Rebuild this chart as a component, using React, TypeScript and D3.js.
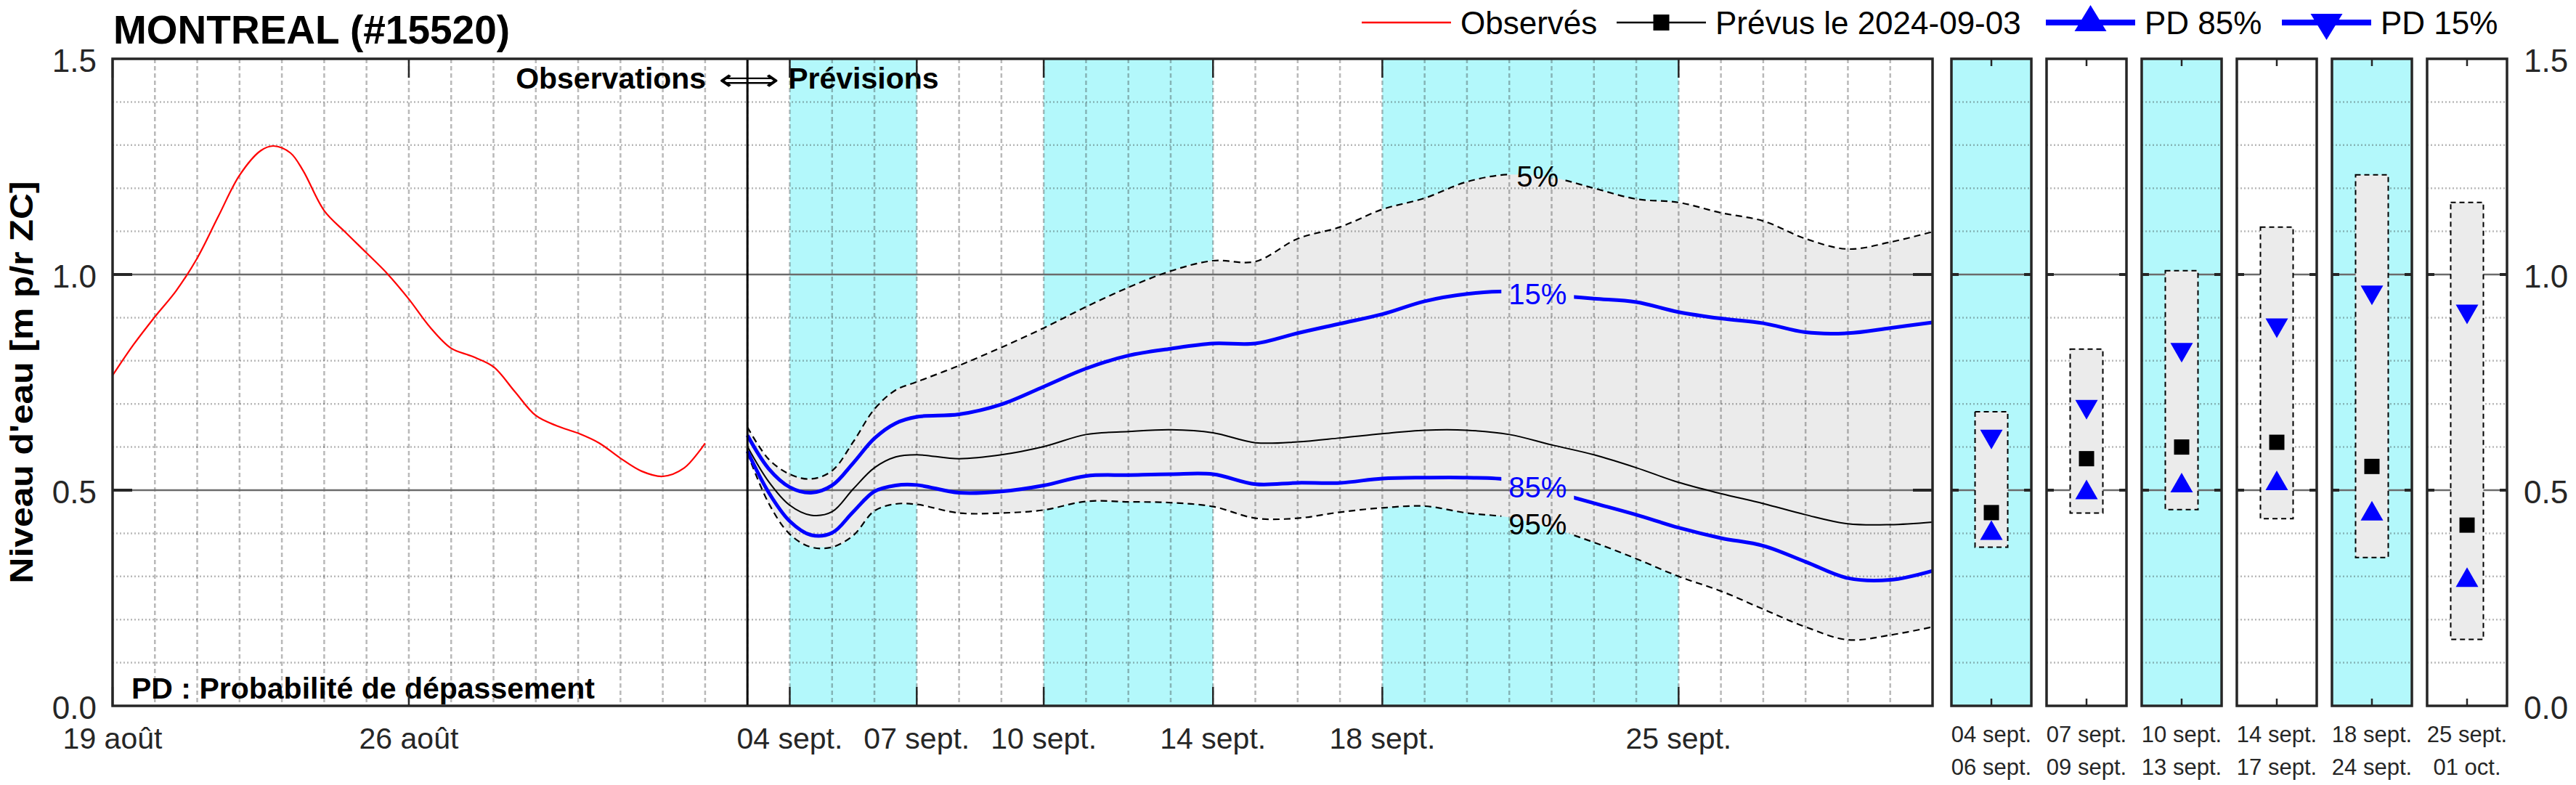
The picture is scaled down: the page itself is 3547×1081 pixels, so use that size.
import * as d3 from 'd3'

const FONT = 'Liberation Sans, Arial, Helvetica, sans-serif'
const CYAN = '#b3f8fb'
const ENVELOPE = '#ebebeb'
const BLUE = '#0000ff'
const AXIS = '#262626'

// observed levels, days since 2024-08-19
const obsDays = [0, 0.5, 1, 1.5, 2, 2.5, 3, 3.5, 3.8, 4.2, 4.5, 5, 5.5, 6, 6.5, 7, 7.5, 8, 8.5, 9, 9.5, 10, 10.5, 11, 11.5, 12, 12.5, 13, 13.5, 14]
const obsLevel = [0.766, 0.838, 0.902, 0.962, 1.038, 1.135, 1.23, 1.287, 1.298, 1.282, 1.241, 1.148, 1.098, 1.05, 1.001, 0.943, 0.878, 0.829, 0.81, 0.786, 0.729, 0.673, 0.649, 0.632, 0.609, 0.574, 0.544, 0.532, 0.551, 0.609]

// forecast issued 2024-09-03, days after issue
const fcDays = [0, 0.5, 1, 1.5, 2, 2.5, 3, 3.5, 4, 5, 6, 7, 8, 9, 10, 11, 12, 13, 14, 15, 16, 17, 18, 19, 20, 21, 22, 23, 24, 25, 26, 27, 28]
const p05 = [0.646, 0.572, 0.537, 0.526, 0.545, 0.612, 0.688, 0.732, 0.751, 0.789, 0.831, 0.876, 0.925, 0.97, 1.008, 1.032, 1.03, 1.083, 1.11, 1.151, 1.177, 1.215, 1.232, 1.225, 1.2, 1.175, 1.167, 1.143, 1.124, 1.083, 1.059, 1.075, 1.099]
const p15 = [0.627, 0.55, 0.507, 0.494, 0.511, 0.563, 0.62, 0.655, 0.67, 0.676, 0.699, 0.74, 0.782, 0.812, 0.828, 0.84, 0.84, 0.864, 0.886, 0.908, 0.938, 0.955, 0.961, 0.952, 0.944, 0.936, 0.913, 0.898, 0.887, 0.866, 0.864, 0.876, 0.889]
const prevus = [0.601, 0.52, 0.465, 0.442, 0.45, 0.503, 0.552, 0.577, 0.582, 0.573, 0.582, 0.601, 0.629, 0.636, 0.64, 0.633, 0.61, 0.612, 0.621, 0.631, 0.639, 0.639, 0.629, 0.605, 0.582, 0.552, 0.518, 0.492, 0.469, 0.443, 0.422, 0.42, 0.426]
const p85 = [0.59, 0.495, 0.428, 0.396, 0.401, 0.45, 0.497, 0.511, 0.512, 0.494, 0.497, 0.511, 0.533, 0.535, 0.537, 0.537, 0.514, 0.517, 0.517, 0.527, 0.529, 0.529, 0.524, 0.497, 0.47, 0.443, 0.413, 0.389, 0.371, 0.334, 0.296, 0.292, 0.313]
const p95 = [0.586, 0.47, 0.398, 0.368, 0.368, 0.395, 0.452, 0.468, 0.467, 0.447, 0.447, 0.454, 0.474, 0.473, 0.471, 0.462, 0.435, 0.435, 0.449, 0.459, 0.463, 0.447, 0.437, 0.412, 0.379, 0.341, 0.3, 0.266, 0.224, 0.183, 0.153, 0.164, 0.183]

const pctLabels = ['5%', '15%', '85%', '95%']
const pctLabelDay = 18.67

const tickDates = ['2024-08-19', '2024-08-26', '2024-09-04', '2024-09-07', '2024-09-10', '2024-09-14', '2024-09-18', '2024-09-25']
const tickLabels = ['19 août', '26 août', '04 sept.', '07 sept.', '10 sept.', '14 sept.', '18 sept.', '25 sept.']

const bandStarts = ['2024-09-04', '2024-09-10', '2024-09-18']
const bandEnds = ['2024-09-07', '2024-09-14', '2024-09-25']

// summary panels per period
const periodFrom = ['04 sept.', '07 sept.', '10 sept.', '14 sept.', '18 sept.', '25 sept.']
const periodTo = ['06 sept.', '09 sept.', '13 sept.', '17 sept.', '24 sept.', '01 oct.']
const periodShaded = [true, false, true, false, true, false]
const periodHigh = [0.682, 0.827, 1.009, 1.11, 1.231, 1.167]
const periodLow = [0.368, 0.447, 0.455, 0.434, 0.344, 0.154]
const periodPd15 = [0.625, 0.694, 0.826, 0.883, 0.959, 0.915]
const periodPrevus = [0.448, 0.573, 0.6, 0.611, 0.555, 0.419]
const periodPd85 = [0.4, 0.494, 0.51, 0.515, 0.445, 0.291]

const yTicks = [0, 0.5, 1, 1.5]
const legendLabels = ['Observés', 'Prévus le 2024-09-03', 'PD 85%', 'PD 15%']

const parse = d3.utcParse('%Y-%m-%d')
const obsOrigin = parse('2024-08-19')!
const fcOrigin = parse('2024-09-03')!
const addDays = (d: Date, n: number) => new Date(+d + n * 864e5)

function valueAt(days: number[], vals: number[], t: number) {
  const i = d3.bisectLeft(days, t)
  if (i <= 0) return vals[0]
  if (i >= days.length) return vals[vals.length - 1]
  const f = (t - days[i - 1]) / (days[i] - days[i - 1])
  return vals[i - 1] + f * (vals[i] - vals[i - 1])
}

function triangle(cx: number, cy: number, w: number, h: number, up: boolean) {
  const s = up ? 1 : -1
  return `M${cx},${cy - (s * 2 * h) / 3}L${cx + w / 2},${cy + (s * h) / 3}L${cx - w / 2},${cy + (s * h) / 3}Z`
}

export default function App() {
  const W = 3547
  const H = 1081
  const m = { left: 155, right: 2661, top: 81, bottom: 972 }

  const x = d3.scaleUtc().domain([obsOrigin, parse('2024-10-01')!]).range([m.left, m.right])
  const y = d3.scaleLinear().domain([0, 1.5]).range([m.bottom, m.top])
  const panel = d3.scaleBand<number>().domain(d3.range(6)).range([2687, 3452]).paddingInner(0.16)

  const curve = d3.curveCatmullRom.alpha(0.5)
  const line = d3
    .line<[Date, number]>()
    .x((d) => x(d[0]))
    .y((d) => y(d[1]))
    .curve(curve)
  const fcDates = fcDays.map((t) => addDays(fcOrigin, t))
  const fcPath = (vals: number[]) => line(fcDates.map((d, i) => [d, vals[i]]))
  const obsPath = line(obsDays.map((t, i) => [addDays(obsOrigin, t), obsLevel[i]]))
  const envelope = d3
    .area<number>()
    .x((i) => x(fcDates[i]))
    .y0((i) => y(p95[i]))
    .y1((i) => y(p05[i]))
    .curve(d3.curveMonotoneX)(d3.range(fcDays.length))

  const dayLines = d3.utcDay.range(addDays(obsOrigin, 1), parse('2024-10-01')!)
  const hGrid = d3.range(1, 15).map((i) => i / 10).filter((v) => Math.abs(v - 0.5) > 0.01 && Math.abs(v - 1) > 0.01)
  const refLevels = [0.5, 1.0]

  const labelX = x(addDays(fcOrigin, pctLabelDay))
  const pctSeries = [p05, p15, p85, p95]
  const pctColors = ['#000', BLUE, BLUE, '#000']
  const pctY = pctSeries.map((s) => y(valueAt(fcDays, s, pctLabelDay)))
  const pctHalf = pctLabels.map((l) => (l.length === 2 ? 38 : 50))

  const gridStroke = { stroke: AXIS, strokeOpacity: 0.32, strokeWidth: 2.5 }
  const fmt = d3.format('.1f')
  const divX = x(fcOrigin)

  const legendStart = [1875, 2226, 2817, 3142]
  const legendLen = 123
  const legendY = 31

  return (
    <div>
      <style>{`body{margin:0}`}</style>
      <svg width={W} height={H} viewBox={`0 0 ${W} ${H}`} style={{ display: 'block', background: '#fff' }} fontFamily={FONT}>
        <defs>
          {pctLabels.map((l, i) => (
            <mask key={l} id={`gap-${i}`} maskUnits="userSpaceOnUse" x={0} y={0} width={W} height={H}>
              <rect x={0} y={0} width={W} height={H} fill="#fff" />
              <rect x={labelX - pctHalf[i]} y={pctY[i] - 20} width={pctHalf[i] * 2} height={40} fill="#000" />
            </mask>
          ))}
        </defs>

        {/* title */}
        <text x={156} y={60} fontSize={55} fontWeight="bold">
          MONTREAL (#15520)
        </text>

        {/* legend */}
        <g fontSize={44}>
          <line x1={legendStart[0]} x2={legendStart[0] + legendLen} y1={legendY} y2={legendY} stroke="#ff0000" strokeWidth={2.5} />
          <line x1={legendStart[1]} x2={legendStart[1] + legendLen} y1={legendY} y2={legendY} stroke="#000" strokeWidth={2.5} />
          <rect x={legendStart[1] + legendLen / 2 - 11} y={legendY - 11} width={22} height={22} fill="#000" />
          <line x1={legendStart[2]} x2={legendStart[2] + legendLen} y1={legendY} y2={legendY} stroke={BLUE} strokeWidth={8} />
          <path d={triangle(legendStart[2] + legendLen / 2, legendY, 44, 36, true)} fill={BLUE} />
          <line x1={legendStart[3]} x2={legendStart[3] + legendLen} y1={legendY} y2={legendY} stroke={BLUE} strokeWidth={8} />
          <path d={triangle(legendStart[3] + legendLen / 2, legendY, 44, 36, false)} fill={BLUE} />
          {legendLabels.map((l, i) => (
            <text key={l} x={legendStart[i] + legendLen + 13} y={legendY + 16}>
              {l}
            </text>
          ))}
        </g>

        {/* main plot background */}
        <rect x={m.left} y={m.top} width={m.right - m.left} height={m.bottom - m.top} fill="#fff" />
        {bandStarts.map((s, i) => (
          <rect key={s} x={x(parse(s)!)} y={m.top} width={x(parse(bandEnds[i])!) - x(parse(s)!)} height={m.bottom - m.top} fill={CYAN} />
        ))}
        <path d={envelope ?? ''} fill={ENVELOPE} />

        {/* grid */}
        {dayLines.map((d) => (
          <line key={+d} x1={x(d)} x2={x(d)} y1={m.top} y2={m.bottom} {...gridStroke} strokeDasharray="6 4" />
        ))}
        {hGrid.map((v) => (
          <line key={v} x1={m.left} x2={m.right} y1={y(v)} y2={y(v)} {...gridStroke} strokeDasharray="2 3" />
        ))}
        {refLevels.map((v) => (
          <line key={v} x1={m.left} x2={m.right} y1={y(v)} y2={y(v)} stroke="#6b6b6b" strokeWidth={2.5} />
        ))}

        {/* series */}
        <path d={obsPath ?? ''} fill="none" stroke="#ff0000" strokeWidth={2.2} />
        <path d={fcPath(p05) ?? ''} fill="none" stroke="#000" strokeWidth={2.2} strokeDasharray="9 6" mask="url(#gap-0)" />
        <path d={fcPath(p95) ?? ''} fill="none" stroke="#000" strokeWidth={2.2} strokeDasharray="9 6" mask="url(#gap-3)" />
        <path d={fcPath(prevus) ?? ''} fill="none" stroke="#000" strokeWidth={2} />
        <path d={fcPath(p15) ?? ''} fill="none" stroke={BLUE} strokeWidth={5} mask="url(#gap-1)" />
        <path d={fcPath(p85) ?? ''} fill="none" stroke={BLUE} strokeWidth={5} mask="url(#gap-2)" />
        {pctLabels.map((l, i) => (
          <text key={l} x={labelX} y={pctY[i] + 14} textAnchor="middle" fontSize={40} fill={pctColors[i]}>
            {l}
          </text>
        ))}

        {/* observations / forecast divider */}
        <line x1={divX} x2={divX} y1={m.top} y2={m.bottom} stroke="#000" strokeWidth={3} />
        <text x={divX - 57} y={122} textAnchor="end" fontSize={41} fontWeight="bold">
          Observations
        </text>
        <text x={divX + 2} y={124} textAnchor="middle" fontSize={41} fontFamily="DejaVu Sans" textLength={84} lengthAdjust="spacingAndGlyphs">
          ⟺
        </text>
        <text x={divX + 56} y={122} fontSize={41} fontWeight="bold">
          Prévisions
        </text>
        <text x={181} y={962} fontSize={41} fontWeight="bold">
          PD : Probabilité de dépassement
        </text>

        {/* axes box and ticks */}
        {tickDates.map((t) => (
          <g key={t} stroke={AXIS} strokeWidth={2.5}>
            <line x1={x(parse(t)!)} x2={x(parse(t)!)} y1={m.top} y2={m.top + 26} />
            <line x1={x(parse(t)!)} x2={x(parse(t)!)} y1={m.bottom} y2={m.bottom - 26} />
          </g>
        ))}
        {refLevels.map((v) => (
          <g key={v} stroke={AXIS} strokeWidth={4}>
            <line x1={m.left} x2={m.left + 27} y1={y(v)} y2={y(v)} />
            <line x1={m.right} x2={m.right - 27} y1={y(v)} y2={y(v)} />
          </g>
        ))}
        <rect x={m.left} y={m.top} width={m.right - m.left} height={m.bottom - m.top} fill="none" stroke={AXIS} strokeWidth={3.5} />

        {tickDates.map((t, i) => (
          <text key={t} x={x(parse(t)!)} y={1031} textAnchor="middle" fontSize={41} fill={AXIS}>
            {tickLabels[i]}
          </text>
        ))}
        {yTicks.map((v) => (
          <g key={v} fontSize={44} fill={AXIS}>
            <text x={133} y={y(v) + 18} textAnchor="end">
              {fmt(v)}
            </text>
            <text x={3475} y={y(v) + 18}>
              {fmt(v)}
            </text>
          </g>
        ))}
        <text
          transform={`translate(45,${(m.top + m.bottom) / 2}) rotate(-90)`}
          textAnchor="middle"
          fontSize={45}
          fontWeight="bold"
          textLength={554}
          lengthAdjust="spacingAndGlyphs"
        >
          Niveau d'eau [m p/r ZC]
        </text>

        {/* summary panels */}
        {periodFrom.map((label, i) => {
          const px = panel(i) ?? 0
          const bw = panel.bandwidth()
          const cx = px + bw / 2
          return (
            <g key={label}>
              <rect x={px} y={m.top} width={bw} height={m.bottom - m.top} fill={periodShaded[i] ? CYAN : '#fff'} />
              {hGrid.map((v) => (
                <line key={v} x1={px} x2={px + bw} y1={y(v)} y2={y(v)} {...gridStroke} strokeDasharray="2 3" />
              ))}
              {refLevels.map((v) => (
                <g key={v}>
                  <line x1={px} x2={px + bw} y1={y(v)} y2={y(v)} stroke="#6b6b6b" strokeWidth={2.5} />
                  <line x1={px} x2={px + 10} y1={y(v)} y2={y(v)} stroke={AXIS} strokeWidth={4} />
                  <line x1={px + bw - 10} x2={px + bw} y1={y(v)} y2={y(v)} stroke={AXIS} strokeWidth={4} />
                </g>
              ))}
              <rect
                x={cx - 22.5}
                y={y(periodHigh[i])}
                width={45}
                height={y(periodLow[i]) - y(periodHigh[i])}
                fill={ENVELOPE}
                stroke="#000"
                strokeWidth={2}
                strokeDasharray="7 5"
              />
              <path d={triangle(cx, y(periodPd15[i]), 31, 27, false)} fill={BLUE} />
              <path d={triangle(cx, y(periodPd85[i]), 31, 27, true)} fill={BLUE} />
              <rect x={cx - 10.5} y={y(periodPrevus[i]) - 10.5} width={21} height={21} fill="#000" />
              <line x1={cx} x2={cx} y1={m.top} y2={m.top + 10} stroke={AXIS} strokeWidth={2.5} />
              <line x1={cx} x2={cx} y1={m.bottom} y2={m.bottom - 10} stroke={AXIS} strokeWidth={2.5} />
              <rect x={px} y={m.top} width={bw} height={m.bottom - m.top} fill="none" stroke={AXIS} strokeWidth={3.5} />
              <text x={cx} y={1022} textAnchor="middle" fontSize={31} fill={AXIS}>
                {label}
              </text>
              <text x={cx} y={1067} textAnchor="middle" fontSize={31} fill={AXIS}>
                {periodTo[i]}
              </text>
            </g>
          )
        })}
      </svg>
    </div>
  )
}
